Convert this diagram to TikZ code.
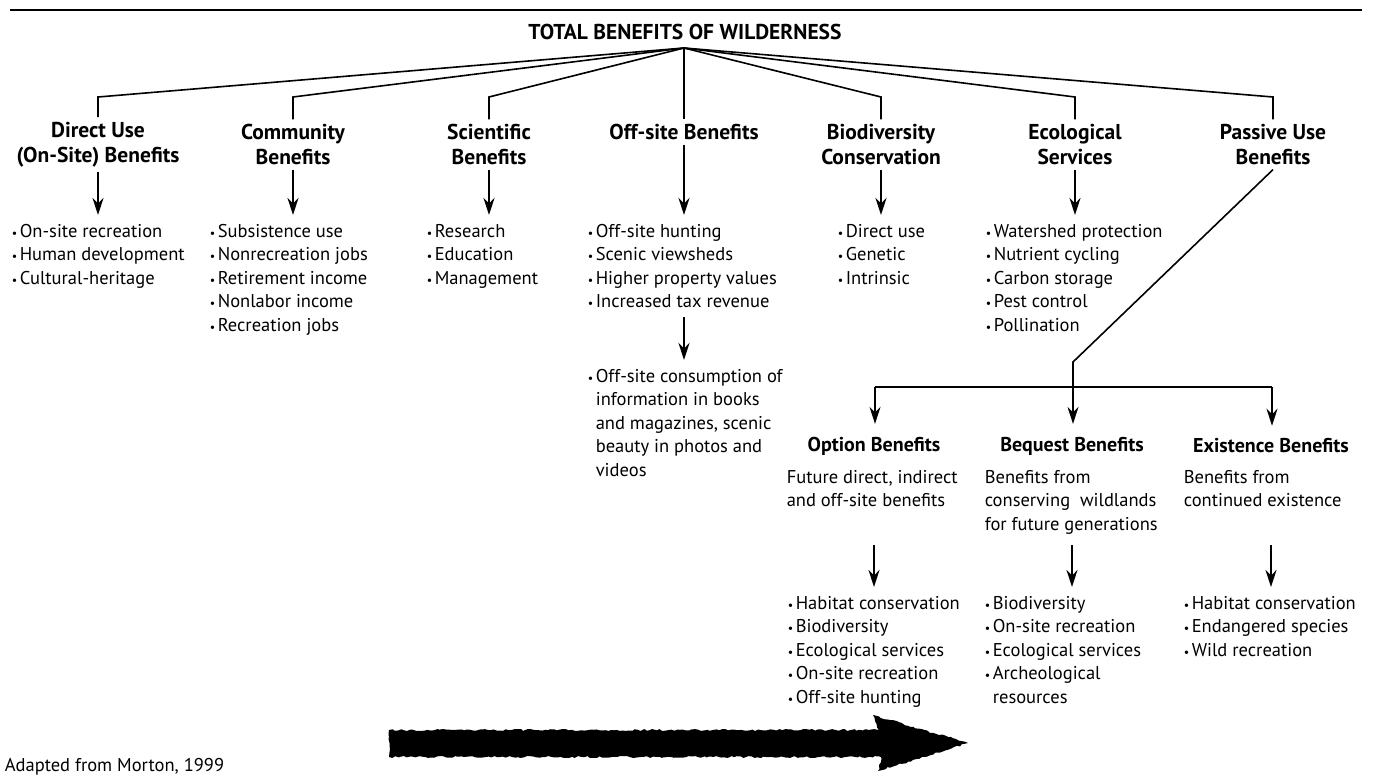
\documentclass[tikz,border=0pt]{standalone}
\usepackage{fontspec}
\setmainfont{PT Sans}
\usetikzlibrary{arrows.meta,decorations.pathmorphing}
\newcommand{\dotitem}{\makebox[8pt][l]{\fontsize{12}{12}\selectfont\textbullet}}
\newcommand{\dotskip}{\hspace*{8pt}}

\begin{document}
\begin{tikzpicture}[x=1pt,y=-1pt,line width=1.6pt,
    hd/.style={font=\bfseries\fontsize{21.5}{25}\selectfont,align=center,inner sep=4pt},
    subhd/.style={hd,font=\bfseries\fontsize{20}{25}\selectfont,outer ysep=9pt},
    lst/.style={font=\fontsize{18.5}{23.6}\selectfont,align=left,anchor=north west,inner sep=0pt,outer ysep=9pt},
    arr/.style={-{Stealth[length=17pt,width=11pt]}}]
    \useasboundingbox (0,0) rectangle (1373,778);

    \draw[line width=2pt] (10,10) -- (1362,10);
    \node[hd] (tot) at (685,32) {TOTAL BENEFITS OF WILDERNESS};
    \coordinate (root) at (684,48);

    \node[hd] (dir) at (98,144.5) {Direct Use\\(On-Site) Benefits};
    \node[hd] (com) at (293,144.5) {Community\\Benefits};
    \node[hd] (sci) at (489,144.5) {Scientific\\Benefits};
    \node[hd] (off) at (684,132) {Off-site Benefits};
    \node[hd] (bio) at (881,144.5) {Biodiversity\\Conservation};
    \node[hd] (eco) at (1075,144.5) {Ecological\\Services};
    \node[hd] (pas) at (1273,144.5) {Passive Use\\Benefits};

    \coordinate (kdir) at (98,97);
    \coordinate (kcom) at (293,97);
    \coordinate (ksci) at (489,97);
    \coordinate (kbio) at (881,97);
    \coordinate (keco) at (1075,97);
    \coordinate (kpas) at (1273,97);

    \draw (root) -- (kdir) -- (dir.north);
    \draw (root) -- (kcom) -- (com.north);
    \draw (root) -- (ksci) -- (sci.north);
    \draw (root) -- (off.north);
    \draw (root) -- (kbio) -- (bio.north);
    \draw (root) -- (keco) -- (eco.north);
    \draw (root) -- (kpas) -- (pas.north);

    \node[lst] (ldir) at (11,215) {\dotitem On-site recreation\\\dotitem Human development\\\dotitem Cultural-heritage};
    \node[lst] (lcom) at (209,215) {\dotitem Subsistence use\\\dotitem Nonrecreation jobs\\\dotitem Retirement income\\\dotitem Nonlabor income\\\dotitem Recreation jobs};
    \node[lst] (lsci) at (426,215) {\dotitem Research\\\dotitem Education\\\dotitem Management};
    \node[lst] (loff) at (587,215) {\dotitem Off-site hunting\\\dotitem Scenic viewsheds\\\dotitem Higher property values\\\dotitem Increased tax revenue};
    \node[lst] (lbio) at (837,215) {\dotitem Direct use\\\dotitem Genetic\\\dotitem Intrinsic};
    \node[lst] (leco) at (985,215) {\dotitem Watershed protection\\\dotitem Nutrient cycling\\\dotitem Carbon storage\\\dotitem Pest control\\\dotitem Pollination};
    \node[lst] (lcons) at (587,360) {\dotitem Off-site consumption of\\\dotskip information in books\\\dotskip and magazines, scenic\\\dotskip beauty in photos and\\\dotskip videos};

    \draw[arr] (dir.south) -- (dir.south |- ldir.north);
    \draw[arr] (com.south) -- (com.south |- lcom.north);
    \draw[arr] (sci.south) -- (sci.south |- lsci.north);
    \draw[arr] (off.south) -- (off.south |- loff.north);
    \draw[arr] (bio.south) -- (bio.south |- lbio.north);
    \draw[arr] (eco.south) -- (eco.south |- leco.north);
    \draw[arr] (off.south |- loff.south) -- (off.south |- lcons.north);

    \node[subhd] (opt) at (874,446) {Option Benefits};
    \node[subhd] (beq) at (1072,446) {Bequest Benefits};
    \node[subhd] (exi) at (1271,446) {Existence Benefits};

    \coordinate (bend) at (1073,362);
    \coordinate (hl) at (875,387);
    \coordinate (hr) at (1272,387);
    \draw (hl) -- (hr);
    \draw[arr] (pas.south) -- (bend) -- (bend |- beq.north);
    \draw[arr] (hl) -- (hl |- opt.north);
    \draw[arr] (hr) -- (hr |- exi.north);

    \node[lst] (dopt) at (786,461) {Future direct, indirect\\and off-site benefits};
    \node[lst] (dbeq) at (984,461) {Benefits from\\conserving\ \ wildlands\\for future generations};
    \node[lst] (dexi) at (1183,461) {Benefits from\\continued existence};

    \coordinate (row) at (0,545);
    \node[lst] (lopt) at (787,587) {\dotitem Habitat conservation\\\dotitem Biodiversity\\\dotitem Ecological services\\\dotitem On-site recreation\\\dotitem Off-site hunting};
    \node[lst] (lbeq) at (984,587) {\dotitem Biodiversity\\\dotitem On-site recreation\\\dotitem Ecological services\\\dotitem Archeological\\\dotskip resources};
    \node[lst] (lexi) at (1183,587) {\dotitem Habitat conservation\\\dotitem Endangered species\\\dotitem Wild recreation};

    \draw[arr] (opt.south |- row) -- (opt.south |- lopt.north);
    \draw[arr] (beq.south |- row) -- (beq.south |- lbeq.north);
    \draw[arr] (exi.south |- row) -- (exi.south |- lexi.north);

    \fill[decorate,decoration={random steps,segment length=3pt,amplitude=1pt}]
      (389,730) -- (879,730) -- (873,715) -- (968,743) -- (878,771) -- (881,757) -- (389,757) -- cycle;

    \node[lst,anchor=west,outer ysep=0pt] (src) at (4,767) {Adapted from Morton, 1999};
  \end{tikzpicture}
\end{document}
